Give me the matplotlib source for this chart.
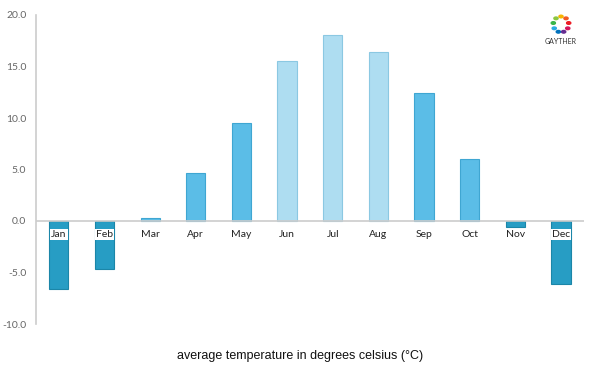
import matplotlib
matplotlib.use("Agg")
import matplotlib.pyplot as plt
import numpy as np

# data
months = ['Jan', 'Feb', 'Mar', 'Apr', 'May', 'Jun', 'Jul', 'Aug', 'Sep', 'Oct', 'Nov', 'Dec']
temps = [-6.6, -4.7, 0.3, 4.7, 9.5, 15.5, 18.1, 16.4, 12.4, 6.0, -0.6, -6.1]
seasons = ['winter', 'winter', 'mid', 'mid', 'mid', 'summer', 'summer', 'summer', 'mid', 'mid', 'winter', 'winter']
y_ticks = [-10.0, -5.0, 0.0, 5.0, 10.0, 15.0, 20.0]

season_colors = {'winter': '#279DC4', 'mid': '#5BBDE7', 'summer': '#AEDDF1'}
season_edges = {'winter': '#1B86A8', 'mid': '#3FA6D2', 'summer': '#8BC8E2'}

plt.rcParams['font.family'] = ['Lato', 'DejaVu Sans']

fig = plt.figure(figsize=(6, 3.75), dpi=100)
ax = fig.add_axes([0.06, 0.136, 0.913, 0.824])

x = np.arange(len(months))
ax.bar(x, temps, width=0.42,
       color=[season_colors[s] for s in seasons],
       edgecolor=[season_edges[s] for s in seasons], linewidth=0.8, zorder=2)

ax.axhline(0, color='#cccccc', linewidth=1.2, zorder=3)

# month labels just below zero line
for xi, m, t in zip(x, months, temps):
    box = dict(facecolor='white', edgecolor='none', pad=0.8) if t < -1 else None
    ax.text(xi, -1.3, m, ha='center', va='center', fontsize=7.5,
            color='#222222', bbox=box, zorder=4)

ax.set_xlim(-0.5, len(months) - 0.5)
ax.set_ylim(-10, 20)
ax.set_yticks(y_ticks)
ax.set_yticklabels([f'{v:.1f}' for v in y_ticks], color='#666666', fontsize=7.5)
ax.tick_params(axis='y', length=0, pad=7)
ax.set_xticks([])

for side in ['top', 'right', 'bottom']:
    ax.spines[side].set_visible(False)
ax.spines['left'].set_color('#cccccc')
ax.spines['left'].set_linewidth(1.2)

fig.text(0.5, 0.05, 'average temperature in degrees celsius (\u00b0C)',
         ha='center', va='center', fontsize=9, color='#111111',
         family=['Liberation Sans', 'DejaVu Sans'])

# small logo in the top right corner
logo_colors = ['#F7B500', '#8CC63F', '#39B54A', '#29ABE2', '#0071BC', '#662D91', '#D4145A', '#ED1C24', '#F15A24']
angles = np.linspace(0, 2 * np.pi, len(logo_colors), endpoint=False) + np.pi / 2
lx = 0.935 + 0.013 * np.cos(angles)
ly = 0.935 + 0.021 * np.sin(angles)
for px, py, c in zip(lx, ly, logo_colors):
    fig.add_artist(plt.Circle((px, py), 0.0035, transform=fig.transFigure, color=c))
fig.text(0.935, 0.888, 'GAYTHER', ha='center', va='center', fontsize=5, color='#333333')

fig.savefig('out.png', dpi=100)
